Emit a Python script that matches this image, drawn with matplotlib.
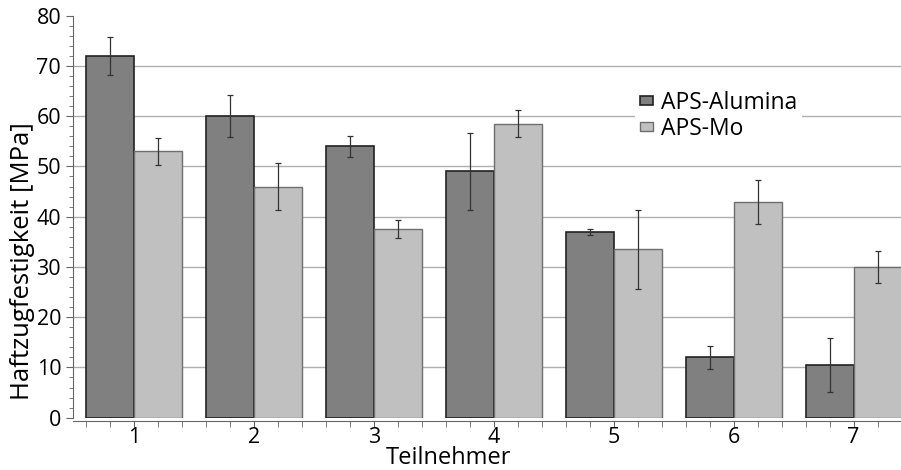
import numpy as np
import matplotlib
matplotlib.use("Agg")
import matplotlib.pyplot as plt
from matplotlib.ticker import MultipleLocator

plt.rcParams['font.family'] = ['Open Sans', 'DejaVu Sans']

teilnehmer = [1, 2, 3, 4, 5, 6, 7]
alumina = [72, 60, 54, 49, 37, 12, 10.5]
alumina_err = [3.75, 4.2, 2.1, 7.6, 0.55, 2.35, 5.45]
mo = [53, 46, 37.5, 58.5, 33.5, 43, 30]
mo_err = [2.65, 4.6, 1.8, 2.65, 7.9, 4.4, 3.1]

x = np.array(teilnehmer, dtype=float)
w = 0.4

fig = plt.figure(figsize=(9.01, 4.70), dpi=100)
ax = fig.add_axes([0.081, 0.1113, 0.919, 0.8553])

ax.bar(x - w/2, alumina, w, color='#808080', edgecolor='#222222', linewidth=1.2,
       label='APS-Alumina', zorder=3)
ax.bar(x + w/2, mo, w, color='#c0c0c0', edgecolor='#6e6e6e', linewidth=1.0,
       label='APS-Mo', zorder=3)
ax.errorbar(x - w/2, alumina, yerr=alumina_err, fmt='none', ecolor='#333333',
            elinewidth=0.9, capsize=2.3, capthick=0.9, zorder=4)
ax.errorbar(x + w/2, mo, yerr=mo_err, fmt='none', ecolor='#333333',
            elinewidth=0.9, capsize=2.3, capthick=0.9, zorder=4)

ax.set_xlim(0.49, 7.395)
ax.set_ylim(0, 80)
ax.set_xticks(teilnehmer)
ax.xaxis.set_minor_locator(MultipleLocator(0.2))
ax.yaxis.set_major_locator(MultipleLocator(10))
ax.yaxis.set_minor_locator(MultipleLocator(2))

for v in range(10, 80, 10):
    ax.axhline(v, color='#b0b0b0', linewidth=1.0, zorder=1)

for s in ['top', 'right']:
    ax.spines[s].set_visible(False)
ax.spines['bottom'].set_position(('outward', 2.5))
ax.spines['left'].set_color('#666666')
ax.spines['bottom'].set_color('#666666')

ax.tick_params(axis='both', which='both', color='#666666', labelsize=15.5)
ax.tick_params(axis='y', which='major', length=5, pad=3.5)
ax.tick_params(axis='y', which='minor', length=3)
ax.tick_params(axis='x', which='both', length=4, pad=0.5)

ax.set_ylabel('Haftzugfestigkeit [MPa]', fontsize=18.5)
ax.yaxis.set_label_coords(-0.046, 0.39)
ax.set_xlabel('Teilnehmer', fontsize=17, va='top')
ax.xaxis.set_label_coords(0.453, -0.07)

leg = ax.legend(loc='upper left', bbox_to_anchor=(0.679, 0.825), frameon=True,
                fontsize=16.5, handlelength=0.57, handleheight=0.26,
                handletextpad=0.35, labelspacing=0.1, borderpad=0.2,
                borderaxespad=0)
leg.get_frame().set_edgecolor('none')
leg.get_frame().set_facecolor('white')
leg.get_frame().set_alpha(1)
leg.get_frame().set_boxstyle('square', pad=0)

fig.savefig('out.png', dpi=100)
